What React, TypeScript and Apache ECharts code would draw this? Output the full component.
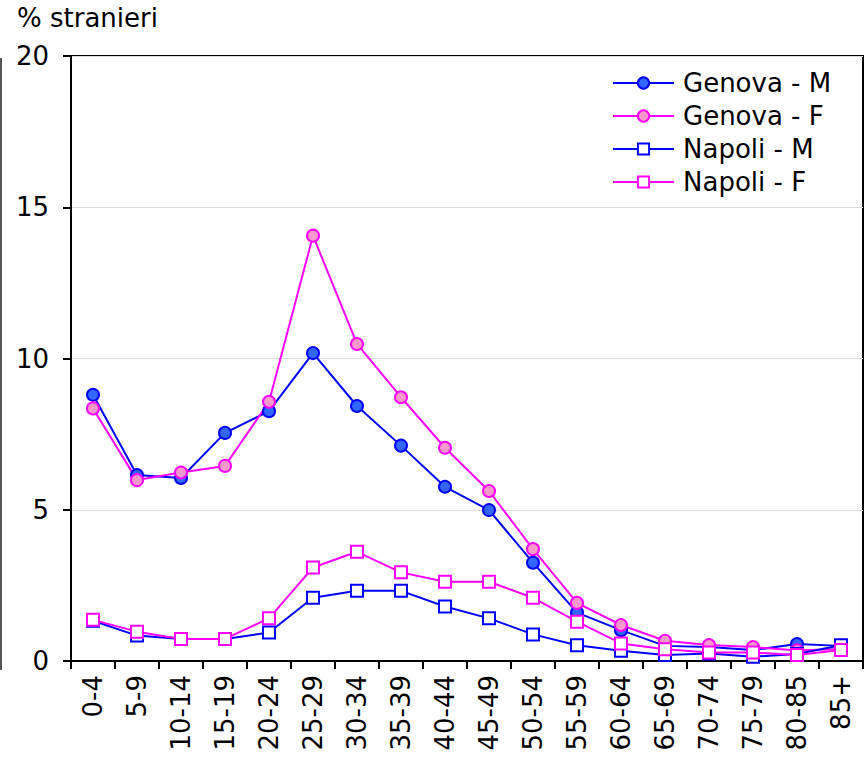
import React, { useEffect, useRef } from "react";
import * as echarts from "echarts";

const categories = ["0-4","5-9","10-14","15-19","20-24","25-29","30-34","35-39","40-44","45-49","50-54","55-59","60-64","65-69","70-74","75-79","80-85","85+"];
const genovaM = [8.8, 6.15, 6.05, 7.54, 8.26, 10.18, 8.43, 7.12, 5.76, 4.99, 3.25, 1.6, 1.02, 0.5, 0.46, 0.36, 0.56, 0.5];
const genovaF = [8.35, 5.98, 6.23, 6.45, 8.57, 14.06, 10.48, 8.72, 7.05, 5.62, 3.7, 1.92, 1.19, 0.67, 0.53, 0.46, 0.35, 0.4];
const napoliM = [1.33, 0.84, 0.73, 0.73, 0.94, 2.09, 2.32, 2.32, 1.8, 1.41, 0.88, 0.52, 0.34, 0.2, 0.25, 0.14, 0.23, 0.52];
const napoliF = [1.36, 0.97, 0.73, 0.73, 1.41, 3.09, 3.61, 2.93, 2.62, 2.62, 2.09, 1.3, 0.58, 0.39, 0.28, 0.28, 0.2, 0.36];
const yTicks = [0, 5, 10, 15, 20];

const FONT = "DejaVu Sans";
const FS = 26;
const BLUE = "#0000ff";
const MAGENTA = "#ff00ff";

export default function App() {
  const ref = useRef<HTMLDivElement>(null);
  useEffect(() => {
    const chart = echarts.init(ref.current!, undefined, { renderer: "svg" });
    const mk = (name: string, data: number[], color: string, symbol: string, fill: string) => ({
      name,
      type: "line",
      data,
      symbol,
      symbolSize: 12,
      itemStyle: { color: fill, borderColor: color, borderWidth: 2 },
      lineStyle: { color, width: 2 },
      emphasis: { disabled: true },
    });
    chart.setOption({
      animation: false,
      title: {
        text: "% stranieri",
        left: 12,
        top: 0,
        textStyle: { fontFamily: FONT, fontSize: FS, fontWeight: "normal", color: "#000" },
      },
      legend: {
        orient: "vertical",
        left: 612,
        top: 70,
        padding: 0,
        itemWidth: 61,
        itemHeight: 14,
        itemGap: 7,
        textStyle: { fontFamily: FONT, fontSize: FS, color: "#000", padding: [0, 0, 0, 4] },
        data: ["Genova - M", "Genova - F", "Napoli - M", "Napoli - F"],
      },
      grid: {
        left: 71,
        right: 5,
        top: 56,
        bottom: 98,
        show: true,
        borderColor: "#000",
        borderWidth: 2,
        containLabel: false,
      },
      xAxis: {
        type: "category",
        data: categories,
        boundaryGap: true,
        axisLine: { lineStyle: { color: "#000", width: 2 } },
        axisTick: { show: true, length: 8, lineStyle: { color: "#000", width: 2 } },
        axisLabel: { rotate: 90, fontFamily: FONT, fontSize: FS, color: "#000", margin: 14, interval: 0 },
      },
      yAxis: {
        type: "value",
        min: yTicks[0],
        max: yTicks[yTicks.length - 1],
        interval: 5,
        axisLine: { show: true, lineStyle: { color: "#000", width: 2 } },
        axisTick: { show: true, length: 8, lineStyle: { color: "#000", width: 2 } },
        axisLabel: { fontFamily: FONT, fontSize: FS, color: "#000", margin: 22 },
        splitLine: { show: true, lineStyle: { color: "#dddddd", width: 1 } },
      },
      graphic: [
        { type: "line", shape: { x1: 1, y1: 58, x2: 1, y2: 670 }, style: { stroke: "#555", lineWidth: 2 } },
      ],
      series: [
        mk("Genova - M", genovaM, BLUE, "circle", "#3366ff"),
        mk("Genova - F", genovaF, MAGENTA, "circle", "#ff99cc"),
        mk("Napoli - M", napoliM, BLUE, "rect", "#ffffff"),
        mk("Napoli - F", napoliF, MAGENTA, "rect", "#ffffff"),
      ],
    });
    return () => chart.dispose();
  }, []);
  return <div ref={ref} style={{ position: "fixed", left: 0, top: 0, width: 868, height: 759, background: "#fff" }} />;
}
